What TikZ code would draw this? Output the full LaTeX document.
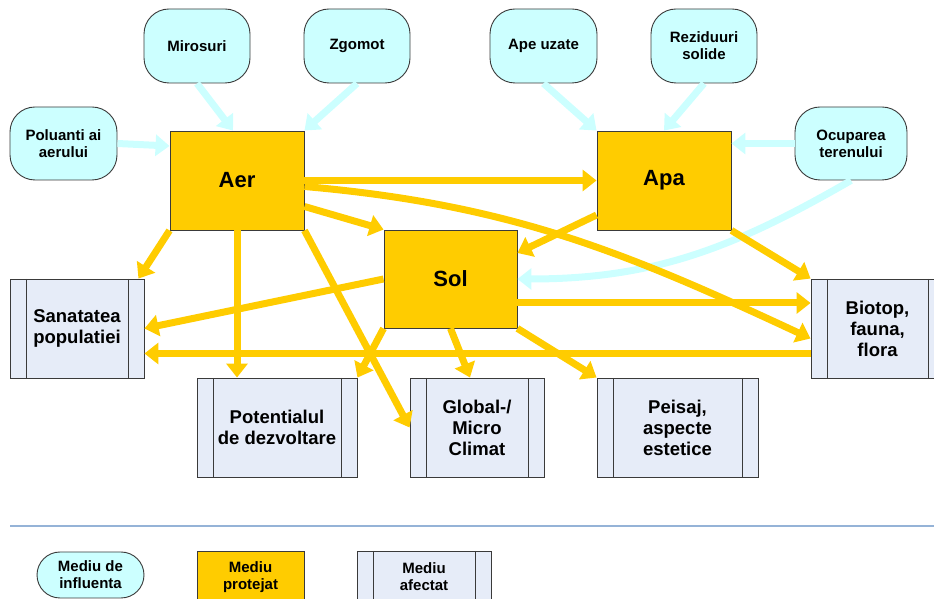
\documentclass[tikz,border=0pt]{standalone}
\usepackage{fontspec}
\setmainfont{Liberation Sans}
\usetikzlibrary{arrows.meta}
\definecolor{infl}{HTML}{CCFFFF}
\definecolor{prot}{HTML}{FFCC00}
\definecolor{afec}{HTML}{E6ECF8}
\definecolor{rim}{HTML}{3A3A3A}
\definecolor{sep}{HTML}{95B3D7}

\begin{document}
\begin{tikzpicture}[x=1pt,y=1pt,
  influenta/.style={draw=rim,line width=0.9pt,fill=infl,rounded corners=25pt,minimum width=106pt,minimum height=74pt,align=center,font=\bfseries\fontsize{15}{17}\selectfont},
  protejat/.style={draw=rim,line width=0.9pt,fill=prot,minimum width=134pt,minimum height=99pt,align=center,font=\bfseries\fontsize{22}{26}\selectfont},
  afectat/.style={draw=rim,line width=0.9pt,fill=afec,minimum width=134pt,minimum height=99pt,align=center,font=\bfseries\fontsize{18.5}{21}\selectfont,
    path picture={\draw[rim,line width=0.9pt] ([xshift=16pt]path picture bounding box.north west) -- ([xshift=16pt]path picture bounding box.south west)
      ([xshift=-16pt]path picture bounding box.north east) -- ([xshift=-16pt]path picture bounding box.south east);}},
  legtext/.style={font=\bfseries\fontsize{15}{17}\selectfont},
  flux/.style={line width=7pt,prot,-{Triangle[width=21pt,length=14pt]}},
  sursa/.style={line width=7pt,infl,-{Triangle[width=21pt,length=14pt]}}]
\useasboundingbox (0,0) rectangle (934,599);
\clip (0,0) rectangle (934,599);
% Mediu de influenta:
\node[influenta] (mirosuri) at (197,553) {Mirosuri};
\node[influenta] (zgomot) at (357,553) {Zgomot};
\node[influenta,minimum width=107pt,minimum height=73pt] (poluanti) at (63.5,455.5) {Poluanti ai\\aerului};
\node[influenta,minimum width=107pt] (apeuzate) at (543.5,553) {Ape uzate};
\node[influenta] (reziduuri) at (704,553) {Reziduuri\\solide};
\node[influenta,minimum width=112pt,minimum height=73pt] (ocuparea) at (851,455.5) {Ocuparea\\terenului};
% Mediu protejat:
\node[protejat] (aer) at (237,418.5) {Aer};
\node[protejat] (apa) at (664,418.5) {Apa};
\node[protejat,minimum width=133pt,minimum height=98pt] (sol) at (450.5,320) {Sol};
% Mediu afectat:
\node[afectat] (sanatatea) at (77,270.5) {Sanatatea\\populatiei};
\node[afectat,minimum width=160pt] (potential) at (277,171.5) {Potentialul\\de dezvoltare};
\node[afectat] (climat) at (477,171.5) {Global-/\\Micro\\Climat};
\node[afectat,minimum width=161pt] (peisaj) at (677.5,171.5) {Peisaj,\\aspecte\\estetice};
\node[afectat,minimum width=133pt] (biotop) at (877.5,270.5) {Biotop,\\fauna,\\flora};
% Influente:
\draw[sursa] (mirosuri.south) -- ([xshift=-4pt]aer.north);
\draw[sursa] (zgomot.south) -- (aer.north east);
\draw[sursa] (poluanti.east) -- ([yshift=34.5pt]aer.west);
\draw[sursa] (apeuzate.south) -- (apa.north west);
\draw[sursa] (reziduuri.south) -- (apa.north);
\draw[sursa] (ocuparea.west) -- (ocuparea.west -| apa.east);
\draw[sursa] (ocuparea.south) to[out=-150,in=0] (sol.east);
% Efecte:
\draw[flux] (aer.east) -- (apa.west);
\draw[flux] ([yshift=-6pt]aer.east) to[out=-5,in=155] ([yshift=-10pt]biotop.west);
\draw[flux] ([yshift=-26pt]aer.east) -- (sol.north west);
\draw[flux] (aer.south west) -- ([xshift=-6pt]sanatatea.north east);
\draw[flux] (aer.south) -- (aer.south |- potential.north);
\draw[flux] (aer.south east) -- (climat.west);
\draw[flux] (apa.south east) -- (biotop.north west);
\draw[flux] ([yshift=-34.5pt]apa.west) -- ([yshift=26pt]sol.east);
\draw[flux] (sol.west) -- (sanatatea.east);
\draw[flux] (sol.south west) -- (potential.north east);
\draw[flux] (sol.south) -- ([xshift=-7pt]climat.north);
\draw[flux] (sol.south east) -- (peisaj.north west);
\draw[flux] ([yshift=-24pt]sol.east) -- ([yshift=25.5pt]biotop.west);
\draw[flux] ([yshift=-25pt]biotop.west) -- ([yshift=-25pt]sanatatea.east);
% Legenda:
\draw[sep,line width=1.2pt] (10,73) -- (934,73);
\node[influenta,legtext,minimum width=107pt,minimum height=46pt,rounded corners=23pt] (leginfl) at (90.5,24) {Mediu de\\influenta};
\node[protejat,legtext,minimum width=107pt,minimum height=52pt] (legprot) at (250.5,22) {Mediu\\protejat};
\node[afectat,legtext,minimum height=52pt] (legafec) at (424,22) {Mediu\\afectat};
\end{tikzpicture}
\end{document}
